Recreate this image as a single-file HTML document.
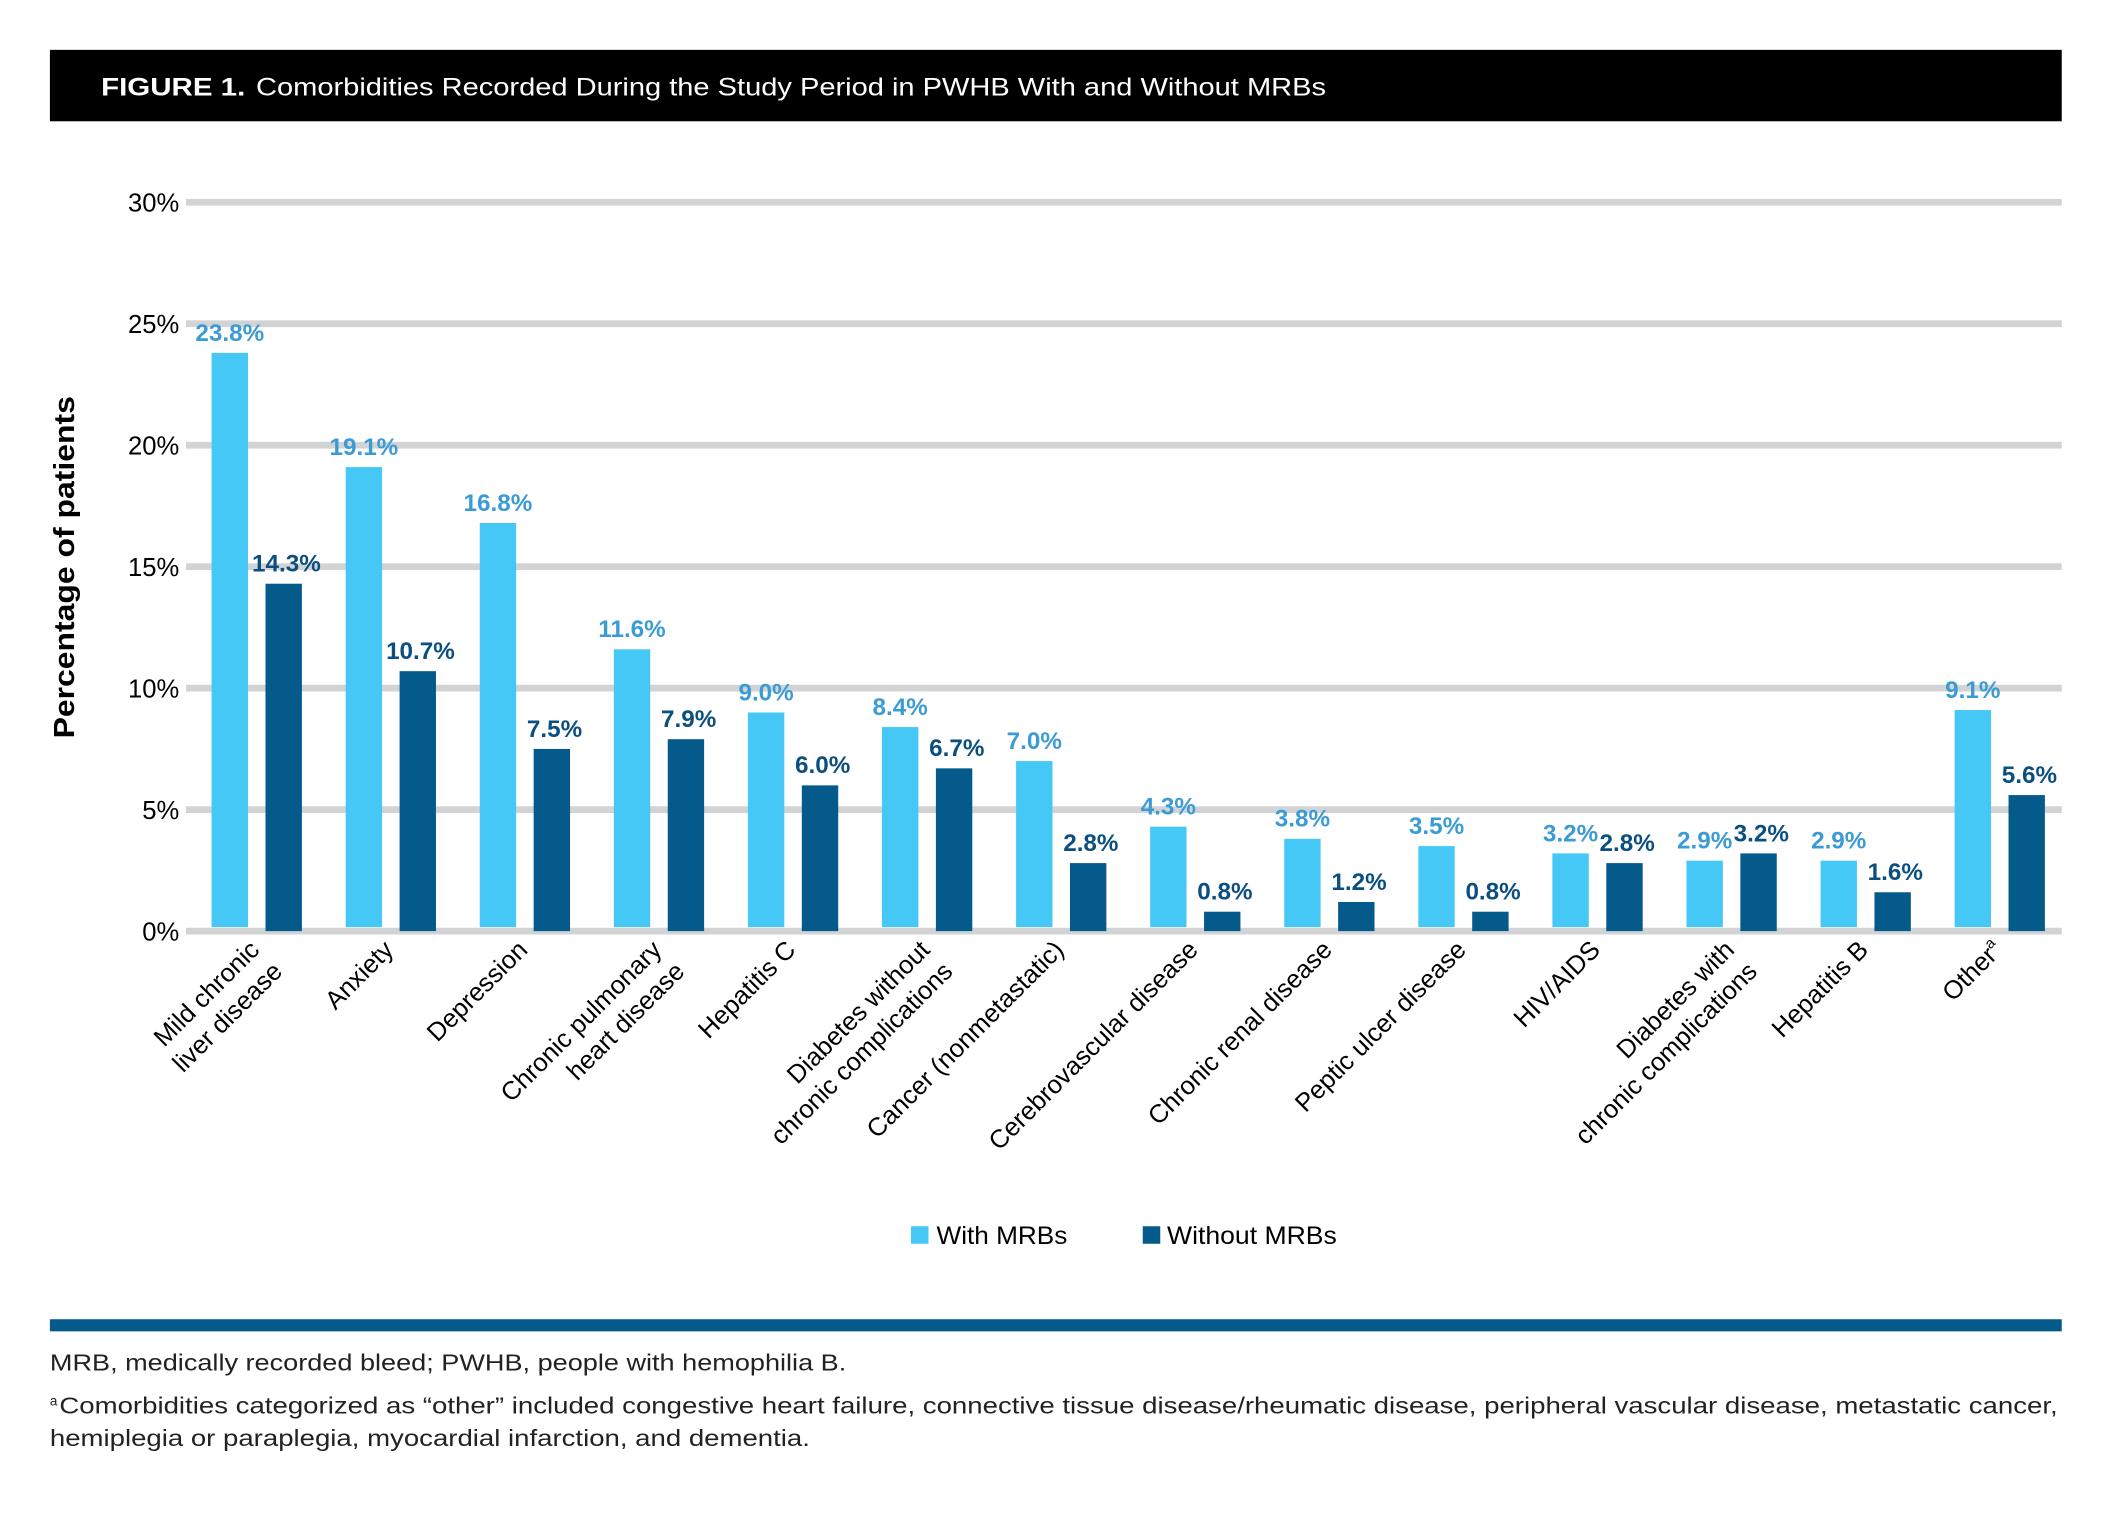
<!DOCTYPE html>
<html><head><meta charset="utf-8">
<style>
html,body{margin:0;padding:0;background:#fff;}
svg{display:block;}
text{font-family:"Liberation Sans",sans-serif;}
</style></head>
<body>
<svg id="chart" width="2113" height="1513" viewBox="0 0 1568 1122.8" xmlns="http://www.w3.org/2000/svg">
  <rect x="37" y="37" width="1493" height="53" fill="#000"/>
  <text x="75" y="71" font-size="18.5" fill="#fff" font-weight="bold" textLength="107" lengthAdjust="spacingAndGlyphs">FIGURE 1.</text>
  <text x="190" y="71" font-size="18.5" fill="#fff" textLength="794" lengthAdjust="spacingAndGlyphs">Comorbidities Recorded During the Study Period in PWHB With and Without MRBs</text>
  <g id="grid"></g>
  <g id="yticks"></g>
  <text transform="translate(55,421) rotate(-90)" text-anchor="middle" font-size="21" font-weight="bold" fill="#000" textLength="254" lengthAdjust="spacingAndGlyphs">Percentage of patients</text>
  <g id="bars"></g>
  <g id="xlabels"></g>
  <g>
    <g>
      <rect x="676" y="910" width="13" height="13" fill="#45c8f5"/>
      <text x="695" y="923" font-size="18.5" fill="#000" textLength="97" lengthAdjust="spacingAndGlyphs">With MRBs</text>
    </g>
    <g>
      <rect x="848" y="910" width="13" height="13" fill="#055a8c"/>
      <text x="866" y="923" font-size="18.5" fill="#000" textLength="126" lengthAdjust="spacingAndGlyphs">Without MRBs</text>
    </g>
  </g>
  <rect x="37" y="979" width="1493" height="9" fill="#055a8c"/>
  <text x="37" y="1017" font-size="17" fill="#222" textLength="591" lengthAdjust="spacingAndGlyphs">MRB, medically recorded bleed; PWHB, people with hemophilia B.</text>
  <text x="37" y="1043" font-size="10" fill="#222">a</text>
  <text x="44" y="1049" font-size="17" fill="#222" textLength="1483" lengthAdjust="spacingAndGlyphs">Comorbidities categorized as “other” included congestive heart failure, connective tissue disease/rheumatic disease, peripheral vascular disease, metastatic cancer,</text>
  <text x="37" y="1073" font-size="17" fill="#222" textLength="564" lengthAdjust="spacingAndGlyphs">hemiplegia or paraplegia, myocardial infarction, and dementia.</text>
</svg>
<script>
const categories = [
  ["Mild chronic","liver disease"],["Anxiety"],["Depression"],["Chronic pulmonary","heart disease"],
  ["Hepatitis C"],["Diabetes without","chronic complications"],["Cancer (nonmetastatic)"],
  ["Cerebrovascular disease"],["Chronic renal disease"],["Peptic ulcer disease"],["HIV/AIDS"],
  ["Diabetes with","chronic complications"],["Hepatitis B"],["Other"]
];
const withMRB = [23.8,19.1,16.8,11.6,9.0,8.4,7.0,4.3,3.8,3.5,3.2,2.9,2.9,9.1];
const withoutMRB = [14.3,10.7,7.5,7.9,6.0,6.7,2.8,0.8,1.2,0.8,2.8,3.2,1.6,5.6];
const yTicks = [0,5,10,15,20,25,30];
const yTickLabels = ["0%","5%","10%","15%","20%","25%","30%"];

const NS = "http://www.w3.org/2000/svg";
const y0 = 691, pxPer = 18.03;
function yScale(v){ return y0 - v * pxPer; }
function groupX(i){ return 157 + i * 99.5; }
const bw = 27, gap = 40;
function mk(tag, attrs, parent){ const e = document.createElementNS(NS, tag); for (const k in attrs) e.setAttribute(k, attrs[k]); parent.appendChild(e); return e; }

const grid = document.getElementById('grid');
const yt = document.getElementById('yticks');
yTicks.forEach((t, i) => {
  const ln = mk('rect', {x:138, y:yScale(t)-2.5, width:1392, height:5, fill:'#d1d3d4'}, grid);
  
  
  const tx = mk('text', {x:133, y:yScale(t)+7, 'text-anchor':'end', 'font-size':19, fill:'#000'}, yt);
  tx.textContent = yTickLabels[i];
  
  
});

const bars = document.getElementById('bars');
const xl = document.getElementById('xlabels');
categories.forEach((c, i) => {
  const x1 = groupX(i), x2 = x1 + gap;
  const b1 = mk('rect', {x:x1, y:yScale(withMRB[i]), width:bw, height:withMRB[i]*pxPer - 3, fill:'#45c8f5'}, bars);
  
  
  const b2 = mk('rect', {x:x2, y:yScale(withoutMRB[i]), width:bw, height:withoutMRB[i]*pxPer, fill:'#055a8c'}, bars);
  
  
  const l1 = mk('text', {x:x1+bw/2, y:yScale(withMRB[i])-9, 'text-anchor':'middle', 'font-size':18, 'font-weight':'bold', fill:'#3a9bd5'}, bars);
  l1.textContent = withMRB[i].toFixed(1) + '%';
  
  
  const l2 = mk('text', {x:x2+bw/2+2, y:yScale(withoutMRB[i])-9, 'text-anchor':'middle', 'font-size':18, 'font-weight':'bold', fill:'#0b4f80'}, bars);
  l2.textContent = withoutMRB[i].toFixed(1) + '%';
  
  
  const cx = x1 + (gap + bw) / 2 + 3;
  c.forEach((line, j) => {
    const ex = cx + j * 17, ey = 706 + j * 16;
    const t = mk('text', {transform:`translate(${ex},${ey}) rotate(-45)`, 'text-anchor':'end', 'font-size':19, fill:'#000'}, xl);
    t.textContent = line;
    if (line === 'Other') { const s = mk('tspan', {'font-size':11, dy:-8}, t); s.textContent = 'a'; }
    
    
  });
});
</script>
</body></html>
